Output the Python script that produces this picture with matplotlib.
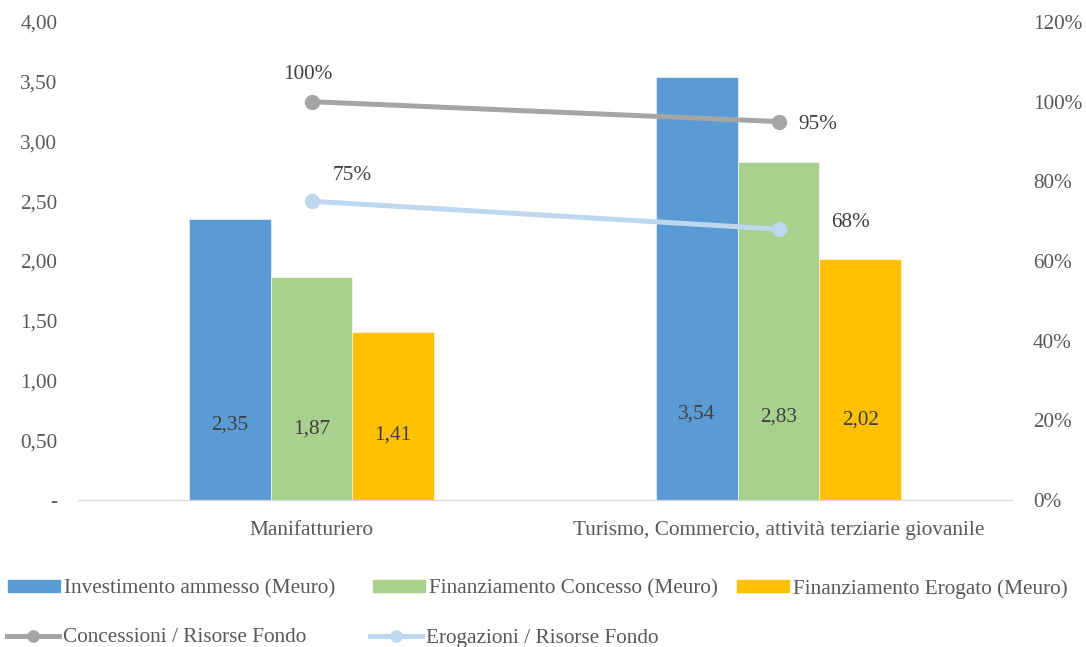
import matplotlib
matplotlib.use("Agg")
import matplotlib.pyplot as plt
from matplotlib.patches import Patch
from matplotlib.lines import Line2D
import numpy as np

categories = ["Manifatturiero", "Turismo, Commercio, attività terziarie giovanile"]
investimento = [2.35, 3.54]
fin_concesso = [1.87, 2.83]
fin_erogato = [1.41, 2.02]
concessioni_pct = [100, 95]
erogazioni_pct = [75, 68]
left_ticks = [0, 0.5, 1.0, 1.5, 2.0, 2.5, 3.0, 3.5, 4.0]
left_ticklabels = ["-", "0,50", "1,00", "1,50", "2,00", "2,50", "3,00", "3,50", "4,00"]
right_ticks = [0, 20, 40, 60, 80, 100, 120]
right_ticklabels = ["0%", "20%", "40%", "60%", "80%", "100%", "120%"]

# label vertical positions inside bars (data units)
label_pos = [[0.63, 0.72], [0.59, 0.69], [0.54, 0.67]]

TXT = "#595959"
FS = 15.3
plt.rcParams["font.family"] = ["Liberation Serif", "DejaVu Serif"]
plt.rcParams["font.size"] = FS

W, H = 1086, 647
fig = plt.figure(figsize=(W / 100, H / 100), dpi=100)
ax = fig.add_axes([78 / W, 1 - 500 / H, (1012 - 78) / W, (500 - 22) / H])
ax2 = ax.twinx()

x = np.arange(len(categories))
w = 0.175
series = [investimento, fin_concesso, fin_erogato]
colors = ["#5B9BD5", "#A9D18E", "#FFC000"]
names = ["Investimento ammesso (Meuro)", "Finanziamento Concesso (Meuro)", "Finanziamento Erogato (Meuro)"]
for i, (vals, c) in enumerate(zip(series, colors)):
    pos = x + (i - 1) * w
    ax.bar(pos, vals, width=w, color=c, edgecolor="white", linewidth=0.4, zorder=2)
    for j, v in enumerate(vals):
        ax.text(pos[j], label_pos[i][j], f"{v:.2f}".replace(".", ","), ha="center", va="center",
                color="#404040", fontsize=FS, zorder=3)

ax.set_xlim(-0.5, 1.5)
ax.set_ylim(0, 4)
ax.set_yticks(left_ticks)
ax.set_yticklabels(left_ticklabels)
ax.set_xticks(x)
ax.set_xticklabels(categories)
ax.tick_params(axis="y", length=0, pad=15, colors=TXT, labelsize=FS)
ax.tick_params(axis="x", length=0, pad=15, colors=TXT, labelsize=FS)

ax2.set_ylim(0, 120)
ax2.set_yticks(right_ticks)
ax2.set_yticklabels(right_ticklabels)
ax2.tick_params(axis="y", length=0, pad=15, colors=TXT, labelsize=FS)

for a in (ax, ax2):
    for s in ("top", "left", "right"):
        a.spines[s].set_visible(False)
    a.spines["bottom"].set_color("#D9D9D9")

ax2.plot(x, concessioni_pct, color="#A5A5A5", lw=3.6, marker="o", ms=10, zorder=4)
ax2.plot(x, erogazioni_pct, color="#BDD7EE", lw=3.6, marker="o", ms=10, zorder=4)

ax2.annotate(f"{concessioni_pct[0]}%", (x[0], concessioni_pct[0]), xytext=(-3, 13), textcoords="offset points",
             ha="center", va="bottom", color="#404040", fontsize=FS)
ax2.annotate(f"{concessioni_pct[1]}%", (x[1], concessioni_pct[1]), xytext=(14, -2), textcoords="offset points",
             ha="left", va="center", color="#404040", fontsize=FS)
ax2.annotate(f"{erogazioni_pct[0]}%", (x[0], erogazioni_pct[0]), xytext=(15, 12), textcoords="offset points",
             ha="left", va="bottom", color="#404040", fontsize=FS)
ax2.annotate(f"{erogazioni_pct[1]}%", (x[1], erogazioni_pct[1]), xytext=(38, 5), textcoords="offset points",
             ha="left", va="center", color="#404040", fontsize=FS)

entries = [
    (Patch(color=colors[0]), names[0], 8, 589),
    (Patch(color=colors[1]), names[1], 373, 589),
    (Patch(color=colors[2]), names[2], 737, 589),
    (Line2D([], [], color="#A5A5A5", lw=3.6, marker="o", ms=8), "Concessioni / Risorse Fondo", 7, 638),
    (Line2D([], [], color="#BDD7EE", lw=3.6, marker="o", ms=8), "Erogazioni / Risorse Fondo", 370, 638),
]
for h, lab, px, py in entries:
    leg = fig.legend([h], [lab], loc="center left", bbox_to_anchor=(px / W, 1 - py / H),
                     frameon=False, fontsize=FS, handlelength=2.45, handleheight=0.5,
                     handletextpad=0.2, borderaxespad=0, borderpad=0)
    for t in leg.get_texts():
        t.set_color(TXT)

fig.savefig("out.png", dpi=100)
